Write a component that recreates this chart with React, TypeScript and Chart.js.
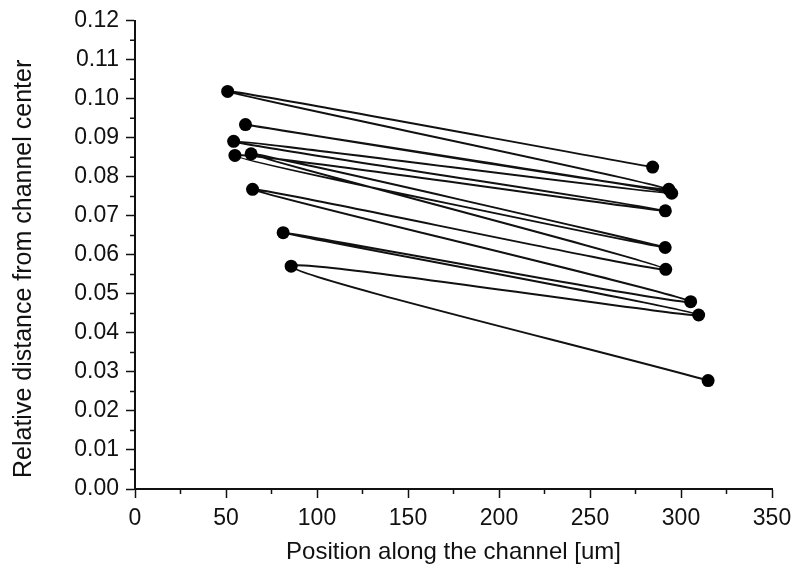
import React, { useEffect, useRef } from 'react';
import { Chart, registerables } from 'chart.js';

Chart.register(...registerables);

// Data (points are joined in this order)
const positions = [284.4, 50.9, 293.3, 60.7, 294.9, 54.2, 291.4, 54.9, 291.3, 63.8, 291.6, 64.6, 305.3, 81.4, 309.7, 85.8, 314.9];
const distances = [0.0825, 0.1019, 0.0768, 0.0934, 0.0758, 0.0891, 0.0713, 0.0855, 0.0619, 0.0859, 0.0563, 0.0768, 0.048, 0.0657, 0.0446, 0.0571, 0.0278];

const xTicks = [0, 50, 100, 150, 200, 250, 300, 350];
const yTicks = [0, 0.01, 0.02, 0.03, 0.04, 0.05, 0.06, 0.07, 0.08, 0.09, 0.1, 0.11, 0.12];
const yTickLabels = ['0.00', '0.01', '0.02', '0.03', '0.04', '0.05', '0.06', '0.07', '0.08', '0.09', '0.10', '0.11', '0.12'];

const xTitle = 'Position along the channel [um]';
const yTitle = 'Relative distance from channel center';

const FONT = "'Liberation Sans', Arial, sans-serif";
const INK = '#111';

const minorTicksPlugin = {
  id: 'minorTicks',
  afterDraw(chart: any) {
    const { ctx, scales } = chart;
    const xs = scales.x;
    const ys = scales.y;
    ctx.save();
    ctx.strokeStyle = INK;
    ctx.lineWidth = 1.5;
    ctx.beginPath();
    for (let i = 0; i < xTicks.length - 1; i++) {
      const px = xs.getPixelForValue((xTicks[i] + xTicks[i + 1]) / 2);
      ctx.moveTo(px, ys.bottom);
      ctx.lineTo(px, ys.bottom + 5);
    }
    for (let i = 0; i < yTicks.length - 1; i++) {
      const py = ys.getPixelForValue((yTicks[i] + yTicks[i + 1]) / 2);
      ctx.moveTo(xs.left, py);
      ctx.lineTo(xs.left - 5, py);
    }
    ctx.stroke();
    // y axis title
    ctx.translate(24, (ys.top + ys.bottom) / 2 + 14);
    ctx.rotate(-Math.PI / 2);
    ctx.fillStyle = INK;
    ctx.font = `25px ${FONT}`;
    ctx.textAlign = 'center';
    ctx.textBaseline = 'middle';
    ctx.fillText(yTitle, 0, 0);
    ctx.restore();
  },
};

export default function App() {
  const canvasRef = useRef<HTMLCanvasElement | null>(null);

  useEffect(() => {
    if (!canvasRef.current) return;
    const chart = new Chart(canvasRef.current, {
      type: 'line',
      data: {
        datasets: [
          {
            data: positions.map((x, i) => ({ x, y: distances[i] })),
            borderColor: INK,
            backgroundColor: INK,
            borderWidth: 2,
            pointRadius: 6.5,
            pointBackgroundColor: '#000',
            pointBorderColor: '#000',
            pointBorderWidth: 0,
            tension: 0.3,
            fill: false,
          },
        ],
      },
      options: {
        animation: false,
        responsive: true,
        maintainAspectRatio: false,
        layout: { padding: { left: 0, top: 18, right: 22, bottom: 0 } },
        plugins: {
          legend: { display: false },
          tooltip: { enabled: false },
        },
        scales: {
          x: {
            type: 'linear',
            min: 0,
            max: 350,
            afterFit: (s: any) => {
              s.height = 85;
              s.paddingLeft = 0;
              s.paddingRight = 0;
            },
            afterBuildTicks: (s: any) => { s.ticks = xTicks.map((v) => ({ value: v })); },
            grid: {
              drawOnChartArea: false,
              drawTicks: true,
              tickLength: 9,
              tickColor: INK,
              tickWidth: 1.5,
            },
            border: { display: true, color: INK, width: 2 },
            ticks: {
              color: INK,
              padding: 7,
              maxRotation: 0,
              autoSkip: false,
              font: { family: FONT, size: 23 },
              callback: (v: any) => String(v),
            },
            title: {
              display: true,
              text: xTitle,
              color: INK,
              font: { family: FONT, size: 24 },
              padding: { top: 0, bottom: 7 },
            },
          },
          y: {
            type: 'linear',
            min: 0,
            max: 0.12,
            afterFit: (s: any) => { s.width = 135; },
            afterBuildTicks: (s: any) => { s.ticks = yTicks.map((v) => ({ value: v })); },
            grid: {
              drawOnChartArea: false,
              drawTicks: true,
              tickLength: 9,
              tickColor: INK,
              tickWidth: 1.5,
            },
            border: { display: true, color: INK, width: 2 },
            ticks: {
              color: INK,
              padding: 7,
              autoSkip: false,
              font: { family: FONT, size: 23 },
              callback: (v: any) => {
                const i = yTicks.findIndex((t) => Math.abs(t - Number(v)) < 1e-9);
                return i >= 0 ? yTickLabels[i] : '';
              },
            },
            title: { display: false, text: yTitle },
          },
        },
      },
      plugins: [minorTicksPlugin],
    });
    return () => chart.destroy();
  }, []);

  return (
    <div style={{ position: 'fixed', left: 0, top: 0, width: 794, height: 574, background: '#fff' }}>
      <canvas ref={canvasRef} aria-label={`${yTitle} vs ${xTitle}`} />
    </div>
  );
}
